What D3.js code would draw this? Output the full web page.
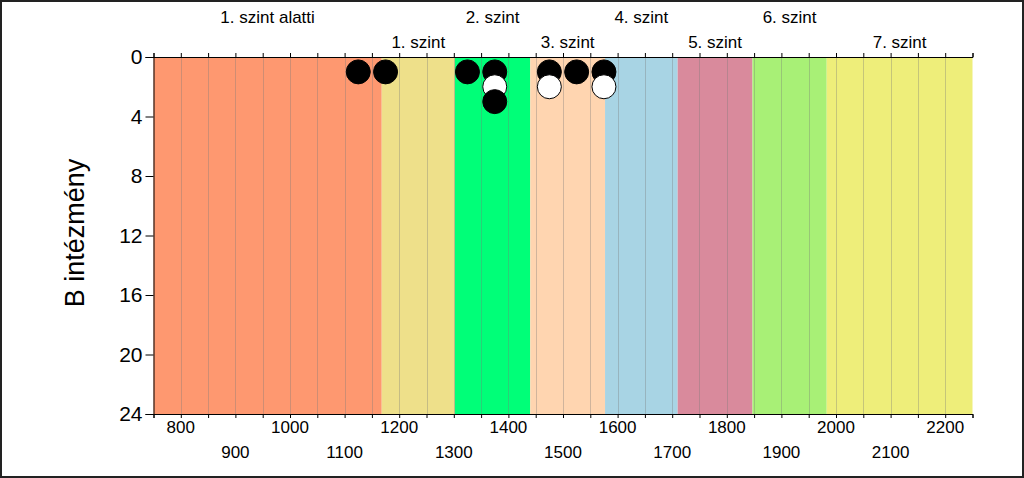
<!DOCTYPE html>
<html>
<head>
<meta charset="utf-8">
<script src="https://cdn.jsdelivr.net/npm/d3@7"></script>
<style>
  html, body { margin: 0; padding: 0; background: #fff; }
  svg { display: block; }
  text { font-family: Arial, "Liberation Sans", sans-serif; fill: #000; }
</style>
</head>
<body>
<svg id="chart" width="1024" height="478"></svg>
<script>
// ---- data ----
const levelNames = ["1. szint alatti", "1. szint", "2. szint", "3. szint", "4. szint", "5. szint", "6. szint", "7. szint"];
const levelEdges = [750, 1168, 1302, 1440, 1577, 1710, 1847, 1983, 2250];
const levelColors = ["#FE9870", "#EEE08A", "#00FF78", "#FFD5B0", "#A8D4E4", "#D98A9C", "#A8F076", "#EEEE7A"];
const xTickValues = [800, 900, 1000, 1100, 1200, 1300, 1400, 1500, 1600, 1700, 1800, 1900, 2000, 2100, 2200];
const yTickValues = [0, 4, 8, 12, 16, 20, 24];
const blackX = [1125, 1175, 1325, 1375, 1475, 1525, 1575, 1375];
const blackY = [1, 1, 1, 1, 1, 1, 1, 3];
const whiteX = [1375, 1475, 1575];
const whiteY = [2, 2, 2];
const yTitle = "B intézmény";

// ---- layout ----
const svg = d3.select("#chart");
const W = 1024, H = 478;
const x = d3.scaleLinear().domain([750, 2250]).range([153.5, 972.5]);
const y = d3.scaleLinear().domain([0, 24]).range([57, 414]);

// bands
const bands = levelNames.map((n, i) => ({ name: n, x0: levelEdges[i], x1: levelEdges[i + 1], color: levelColors[i], i }));
svg.append("g").selectAll("rect").data(bands).join("rect")
  .attr("x", d => x(d.x0)).attr("width", d => x(d.x1) - x(d.x0))
  .attr("y", y(0)).attr("height", y(24) - y(0))
  .attr("fill", d => d.color);

// vertical grid lines every 50
const gridVals = d3.range(800, 2250, 50);
svg.append("g").selectAll("line").data(gridVals).join("line")
  .attr("x1", d => Math.round(x(d)) + 0.5).attr("x2", d => Math.round(x(d)) + 0.5)
  .attr("y1", y(0)).attr("y2", y(24))
  .attr("stroke", "rgba(120,120,120,0.35)").attr("stroke-width", 1);

// level labels on top (alternating rows)
svg.append("g").selectAll("text").data(bands).join("text")
  .attr("x", d => (x(d.x0) + x(d.x1)) / 2)
  .attr("y", d => d.i % 2 === 0 ? 23 : 48)
  .attr("text-anchor", "middle")
  .attr("font-size", 17)
  .text(d => d.name);

// top axis (ticks only)
const topAxis = d3.axisTop(x).tickValues(d3.range(750, 2251, 50)).tickSize(4).tickFormat("");
const gTop = svg.append("g").attr("transform", `translate(0,${y(0)})`).call(topAxis);
gTop.select(".domain").attr("stroke", "#000");
gTop.selectAll(".tick line").attr("stroke", "#000");

// bottom axis
const botAxis = d3.axisBottom(x).tickValues(d3.range(750, 2251, 50)).tickSize(4).tickFormat("");
const gBot = svg.append("g").attr("transform", `translate(0,${y(24)})`).call(botAxis);
gBot.select(".domain").attr("stroke", "#000");
gBot.selectAll(".tick line").attr("stroke", "#000");

// bottom tick labels, alternating rows
svg.append("g").selectAll("text").data(xTickValues).join("text")
  .attr("x", d => x(d))
  .attr("y", (d, i) => i % 2 === 0 ? 433 : 458)
  .attr("text-anchor", "middle")
  .attr("font-size", 17)
  .text(d => d);

// left axis
const leftAxis = d3.axisLeft(y).tickValues(yTickValues).tickSize(8).tickPadding(3);
const gLeft = svg.append("g").attr("transform", `translate(${x(750)},0)`).call(leftAxis);
gLeft.select(".domain").attr("stroke", "#000");
gLeft.selectAll(".tick line").attr("stroke", "#000");
gLeft.selectAll(".tick text").attr("font-size", 21).attr("font-family", "Arial, 'Liberation Sans', sans-serif").attr("fill", "#000");

// y title
svg.append("text")
  .attr("transform", `translate(84,233) rotate(-90)`)
  .attr("text-anchor", "middle")
  .attr("font-size", 27)
  .text(yTitle);

// points: combine and draw in stacking order
const pts = [];
blackX.forEach((v, i) => pts.push({ x: v, y: blackY[i], fill: "#000" }));
whiteX.forEach((v, i) => pts.push({ x: v, y: whiteY[i], fill: "#fff" }));
pts.sort((a, b) => a.y - b.y);
svg.append("g").selectAll("circle").data(pts).join("circle")
  .attr("cx", d => x(d.x)).attr("cy", d => y(d.y))
  .attr("r", 12)
  .attr("fill", d => d.fill)
  .attr("stroke", "#000").attr("stroke-width", 1);

// outer frame
svg.append("rect").attr("x", 1).attr("y", 1).attr("width", W - 2).attr("height", H - 2)
  .attr("fill", "none").attr("stroke", "#222").attr("stroke-width", 2);
</script>
</body>
</html>
